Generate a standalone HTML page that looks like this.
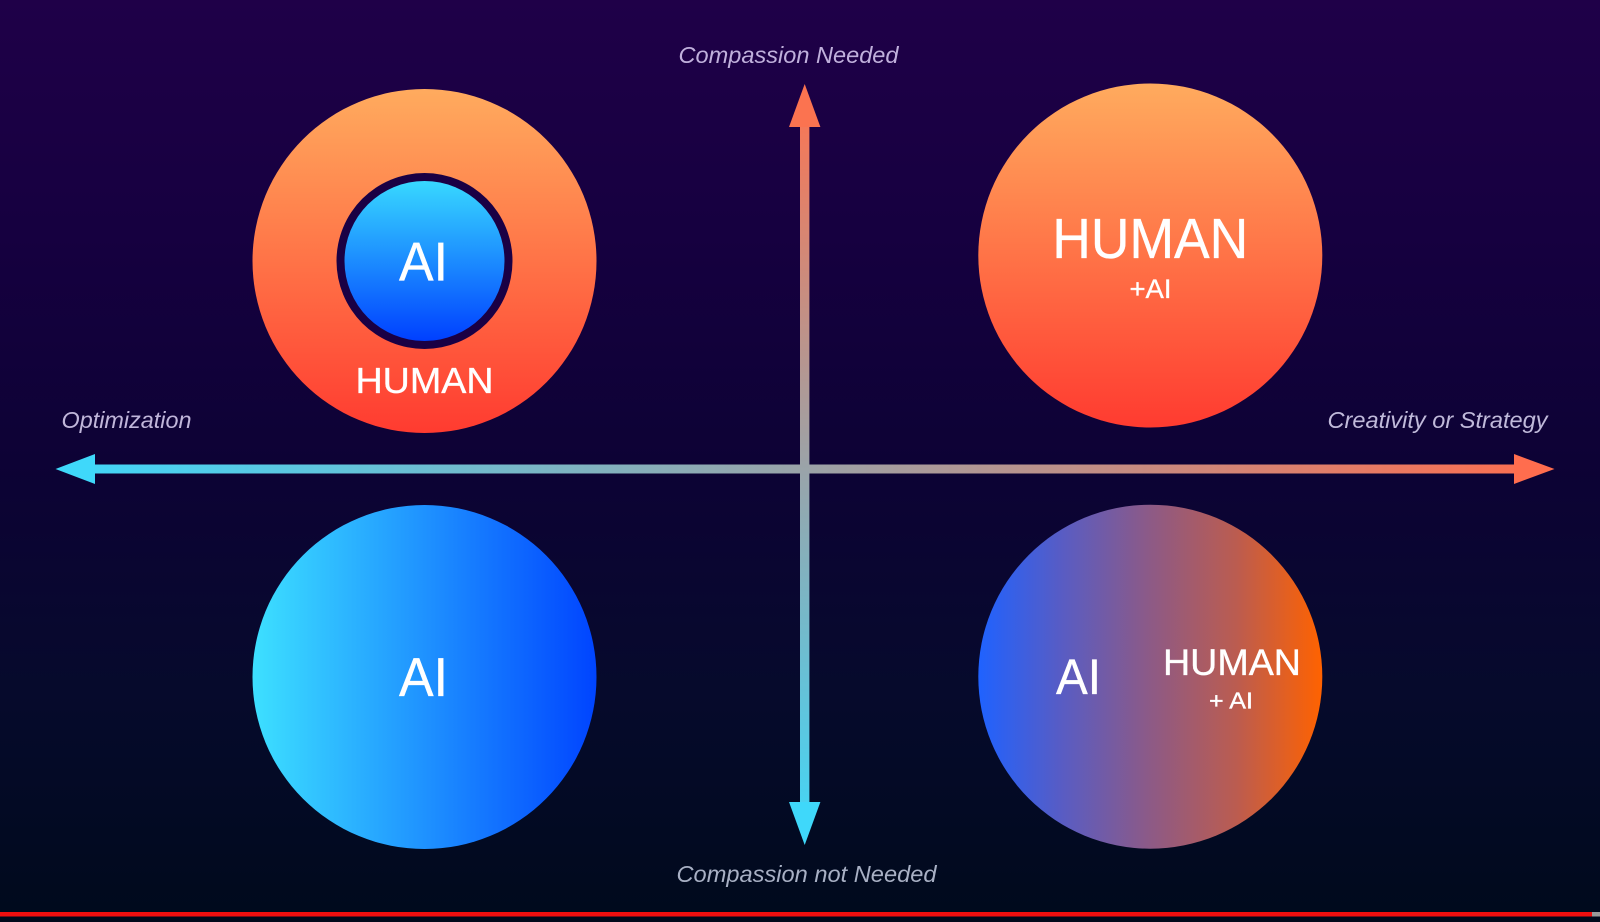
<!DOCTYPE html>
<html lang="en">
<head>
<meta charset="utf-8">
<title>AI and Human Quadrants</title>
<style>
html,body{margin:0;padding:0;width:1600px;height:922px;overflow:hidden;background:#00081c}
svg{display:block}
text{font-family:"Liberation Sans",sans-serif}
.lab{font-style:italic;font-size:23px}
.w{fill:#fff;stroke:#fff;stroke-width:.35px}
</style>
</head>
<body>
<svg width="1600" height="922" viewBox="0 0 1600 922" xmlns="http://www.w3.org/2000/svg">
<defs>
<linearGradient id="bg" x1="0" y1="0" x2="0" y2="1">
<stop offset="0" stop-color="#1f0048"/>
<stop offset="0.25" stop-color="#160040"/>
<stop offset="0.5" stop-color="#0d0235"/>
<stop offset="0.75" stop-color="#060a2c"/>
<stop offset="1" stop-color="#000a1c"/>
</linearGradient>
<linearGradient id="warm" x1="0" y1="0" x2="0" y2="1">
<stop offset="0" stop-color="#ffab5e"/>
<stop offset="1" stop-color="#ff3b30"/>
</linearGradient>
<linearGradient id="cool" x1="0" y1="0" x2="1" y2="0">
<stop offset="0" stop-color="#3de0ff"/>
<stop offset="1" stop-color="#0044ff"/>
</linearGradient>
<linearGradient id="coolv" x1="0" y1="0" x2="0" y2="1">
<stop offset="0" stop-color="#38d8ff"/>
<stop offset="1" stop-color="#0040ff"/>
</linearGradient>
<linearGradient id="mix" x1="0" y1="0" x2="1" y2="0">
<stop offset="0" stop-color="#1f62ff"/>
<stop offset="0.25" stop-color="#5a5cc2"/>
<stop offset="0.5" stop-color="#8d5a86"/>
<stop offset="0.75" stop-color="#bb5c50"/>
<stop offset="1" stop-color="#ff6200"/>
</linearGradient>
<linearGradient id="hax" gradientUnits="userSpaceOnUse" x1="56" y1="0" x2="1554" y2="0">
<stop offset="0" stop-color="#3fd8fa"/>
<stop offset="0.5" stop-color="#9ba3a8"/>
<stop offset="1" stop-color="#ff6d4e"/>
</linearGradient>
<linearGradient id="vax" gradientUnits="userSpaceOnUse" x1="0" y1="84" x2="0" y2="845">
<stop offset="0" stop-color="#ff734f"/>
<stop offset="0.5" stop-color="#9ba3a8"/>
<stop offset="1" stop-color="#3fd8fa"/>
</linearGradient>
</defs>

<rect width="1600" height="922" fill="url(#bg)"/>

<!-- axes -->
<rect x="92" y="464.5" width="1425" height="9" fill="url(#hax)"/>
<rect x="800" y="122" width="9.4" height="686" fill="url(#vax)"/>
<polygon points="55.5,469 95,454 95,484" fill="#3fd8fa"/>
<polygon points="1554.5,469 1514,454 1514,484" fill="#ff6d4e"/>
<polygon points="804.7,84 820.4,127 789,127" fill="#fb7350"/>
<polygon points="804.7,845 820.4,802 789,802" fill="#3fd8fa"/>

<!-- top-left -->
<circle cx="424.5" cy="261" r="172" fill="url(#warm)"/>
<circle cx="424.5" cy="261" r="88" fill="#1a0044"/>
<circle cx="424.5" cy="261" r="80" fill="url(#coolv)"/>
<text class="w" x="423.5" y="280.5" text-anchor="middle" font-size="55" textLength="49" lengthAdjust="spacingAndGlyphs">AI</text>
<text class="w" x="424.5" y="393" text-anchor="middle" font-size="36" textLength="138" lengthAdjust="spacingAndGlyphs">HUMAN</text>

<!-- top-right -->
<circle cx="1150.3" cy="255.5" r="172" fill="url(#warm)"/>
<text class="w" x="1150.3" y="258" text-anchor="middle" font-size="57" textLength="196" lengthAdjust="spacingAndGlyphs">HUMAN</text>
<text class="w" x="1150.5" y="298" text-anchor="middle" font-size="27" textLength="42" lengthAdjust="spacingAndGlyphs">+AI</text>

<!-- bottom-left -->
<circle cx="424.5" cy="677" r="172" fill="url(#cool)"/>
<text class="w" x="423.5" y="696" text-anchor="middle" font-size="55" textLength="49" lengthAdjust="spacingAndGlyphs">AI</text>

<!-- bottom-right -->
<circle cx="1150.3" cy="676.7" r="172" fill="url(#mix)"/>
<text class="w" x="1078.5" y="694" text-anchor="middle" font-size="50" textLength="45" lengthAdjust="spacingAndGlyphs">AI</text>
<text class="w" x="1232" y="675" text-anchor="middle" font-size="37" textLength="138" lengthAdjust="spacingAndGlyphs">HUMAN</text>
<text class="w" x="1231" y="708.5" text-anchor="middle" font-size="23" textLength="44" lengthAdjust="spacingAndGlyphs">+ AI</text>

<!-- axis labels -->
<text class="lab" x="61.5" y="428" fill="#c0b6da" textLength="130" lengthAdjust="spacingAndGlyphs">Optimization</text>
<text class="lab" x="1327.5" y="428" fill="#c0bada" textLength="220" lengthAdjust="spacingAndGlyphs">Creativity or Strategy</text>
<text class="lab" x="678.5" y="63" fill="#c0b0dc" textLength="220" lengthAdjust="spacingAndGlyphs">Compassion Needed</text>
<text class="lab" x="676.5" y="882" fill="#a8b0c4" textLength="260" lengthAdjust="spacingAndGlyphs">Compassion not Needed</text>

<!-- progress bar -->
<rect x="0" y="912" width="1592" height="4.5" fill="#f00f0f"/>
<rect x="1592" y="912" width="8" height="4.5" fill="#9a9a9a"/>
</svg>
</body>
</html>
